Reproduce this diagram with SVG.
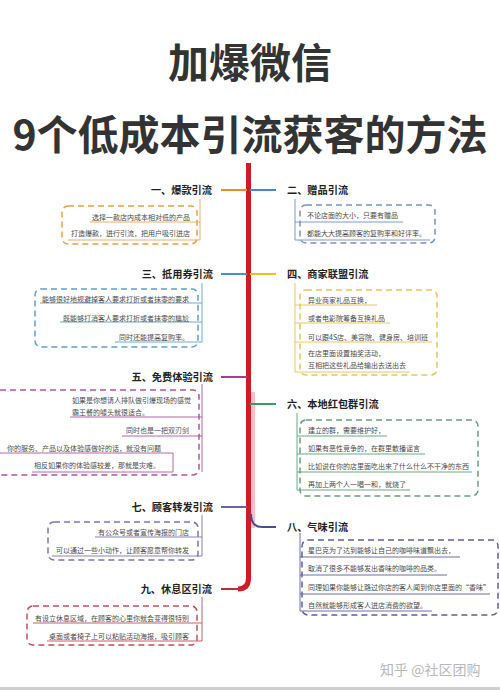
<svg xmlns="http://www.w3.org/2000/svg" width="500" height="690" viewBox="0 0 500 690">
<style>
text{font-family:"Noto Sans CJK SC","Noto Sans",sans-serif}
.title{font-size:41px;font-weight:700;fill:#333;text-anchor:middle}
.lbl{font-size:10.2px;font-weight:700;fill:#222}
.it{font-size:7px;fill:#4a4a4a}
.r{text-anchor:end}
.box{fill:none;stroke-width:1.5;stroke-dasharray:6 4}
.ul{fill:none;stroke-width:0.9}
.br{fill:none;stroke-width:2}
</style>
<rect width="500" height="690" fill="#fff"/>
<text class="title" x="250" y="78">加爆微信</text>
<text class="title" x="250" y="150">9个低成本引流获客的方法</text>

<g id="connectors">
  <rect x="250" y="392" width="5" height="136" fill="#f4c0c6"/>
  <path d="M248.5,163 L248.5,578 Q248.5,589 238,589" fill="none" stroke="#d21a22" stroke-width="5"/>
  <path class="br" d="M221,190 H247" stroke="#ef8a2a"/>
  <path class="br" d="M250,190 H276" stroke="#4f83cc"/>
  <path class="br" d="M221,274 H247" stroke="#3e95cf"/>
  <path class="br" d="M250,274 H276" stroke="#f2be1d"/>
  <path class="br" d="M221,377 H247" stroke="#a93a8f"/>
  <path class="br" d="M250,404 H276" stroke="#3d9a64"/>
  <path class="br" d="M221,507 H247" stroke="#6e61a6"/>
  <path class="br" d="M251,514 Q251,527 262,527 H276" stroke="#4c4c92"/>
  <path class="br" d="M221,589 H240" stroke="#c22a3c"/>
</g>

<g id="n0">
  <text class="lbl r" x="212" y="194">一、爆款引流</text>
  <rect class="box" x="62" y="206" width="135" height="38" rx="6" stroke="#e6a04a"/>
  <g class="ul" stroke="#eba45a"><path d="M200,199 V240"/><path d="M90,222 H200"/><path d="M68,240 H200"/></g>
  <text class="it r" x="190" y="219.5">选择一款店内成本相对低的产品</text>
  <text class="it r" x="190" y="236">打造爆款，进行引流，把用户吸引进店</text>
</g>

<g id="n1">
  <text class="lbl" x="287" y="194">二、赠品引流</text>
  <rect class="box" x="300" y="205" width="135" height="38" rx="6" stroke="#7a93c0"/>
  <g class="ul" stroke="#6e8ec6"><path d="M295,199 V240"/><path d="M295,222 H403"/><path d="M295,240 H430"/></g>
  <text class="it" x="307" y="217.5">不论店面的大小，只要有赠品</text>
  <text class="it" x="307" y="235.5">都能大大提高顾客的复购率和好评率。</text>
</g>

<g id="n2">
  <text class="lbl r" x="213" y="278">三、抵用券引流</text>
  <rect class="box" x="35" y="289" width="163" height="58" rx="6" stroke="#5ea0c8"/>
  <g class="ul" stroke="#5ea0c8"><path d="M202,283 V342"/><path d="M40,303 H202"/><path d="M60,322 H202"/><path d="M115,342 H202"/></g>
  <text class="it r" x="189" y="301.5">能够很好地规避掉客人要求打折或者抹零的要求</text>
  <text class="it r" x="189" y="320.5">既能够打消客人要求打折或者抹零的尴尬</text>
  <text class="it r" x="189" y="339.5">同时还能提高复购率。</text>
</g>

<g id="n3">
  <text class="lbl" x="287" y="278">四、商家联盟引流</text>
  <rect class="box" x="300" y="290" width="137" height="85" rx="6" stroke="#e6c65a"/>
  <g class="ul" stroke="#e8c24a"><path d="M295,283 V372"/><path d="M295,305 H377"/><path d="M295,323 H390"/><path d="M295,342 H432"/><path d="M295,372 H410"/></g>
  <text class="it" x="308" y="302.5">异业商家礼品互换，</text>
  <text class="it" x="308" y="320.5">或者电影院筹备互换礼品</text>
  <text class="it" x="308" y="339.5">可以跟4S店、美容院、健身房、培训班</text>
  <text class="it" x="308" y="355.5">在店里面设置抽奖活动，</text>
  <text class="it" x="308" y="367.5">互相把这些礼品给输出去送出去</text>
</g>

<g id="n4">
  <text class="lbl r" x="213" y="381">五、免费体验引流</text>
  <rect class="box" x="-6" y="390" width="205" height="85" rx="6" stroke="#b2559f"/>
  <g class="ul" stroke="#b2559f"><path d="M202,384 V472"/><path d="M70,417 H202"/><path d="M122,436 H202"/><path d="M173,453 V472"/><path d="M0,453 H173"/><path d="M32,472 H173"/></g>
  <text class="it" x="72" y="402.5">如果是你想请人排队做引爆现场的感觉</text>
  <text class="it" x="72" y="414.5">霸王餐的噱头就很适合。</text>
  <text class="it r" x="189" y="432.5">同时也是一把双刃剑</text>
  <text class="it" x="7" y="450.5">你的服务、产品以及体验感做好的话，就没有问题</text>
  <text class="it r" x="160" y="467.5">相反如果你的体验感较差，那就是灾难。</text>
</g>

<g id="n5">
  <text class="lbl" x="287" y="408">六、本地红包群引流</text>
  <rect class="box" x="300" y="420" width="178" height="76" rx="6" stroke="#6a9e80"/>
  <g class="ul" stroke="#5a9e76"><path d="M297,413 V490"/><path d="M297,436 H387"/><path d="M297,454 H425"/><path d="M297,472 H472"/><path d="M297,490 H410"/></g>
  <text class="it" x="308" y="432.5">建立的群，需要维护好，</text>
  <text class="it" x="308" y="450.5">如果有恶性竞争的，在群里散播谣言</text>
  <text class="it" x="308" y="468.5">比如说在你的店里面吃出来了什么什么不干净的东西</text>
  <text class="it" x="308" y="486.5">再加上两个人一唱一和，就烧了</text>
</g>

<g id="n6">
  <text class="lbl r" x="213" y="511">七、顾客转发引流</text>
  <rect class="box" x="48" y="522" width="150" height="38" rx="6" stroke="#7c74ae"/>
  <g class="ul" stroke="#7c74ae"><path d="M202,515 V556"/><path d="M95,537 H202"/><path d="M52,556 H202"/></g>
  <text class="it r" x="189" y="534.5">有公众号或者宣传海报的门店</text>
  <text class="it r" x="189" y="552.5">可以通过一些小动作，让顾客愿意帮你转发</text>
</g>

<g id="n7">
  <text class="lbl" x="287" y="531">八、气味引流</text>
  <rect class="box" x="302" y="540" width="196" height="75" rx="6" stroke="#5f5f9e"/>
  <g class="ul" stroke="#5f5f9e"><path d="M300,533 V611"/><path d="M300,557 H460"/><path d="M300,575 H447"/><path d="M300,594 H490"/><path d="M300,611 H432"/></g>
  <text class="it" x="308" y="552.5">星巴克为了达到能够让自己的咖啡味道飘出去，</text>
  <text class="it" x="308" y="570.5">取消了很多不能够发出香味的咖啡的品类。</text>
  <text class="it" x="308" y="589.5">同理如果你能够让路过你店的客人闻到你店里面的“香味”</text>
  <text class="it" x="308" y="607.5">自然就能够形成客人进店消费的欲望。</text>
</g>

<g id="n8">
  <text class="lbl r" x="212" y="593">九、休息区引流</text>
  <rect class="box" x="27" y="606" width="170" height="39" rx="6" stroke="#c24d5c"/>
  <g class="ul" stroke="#c24d5c"><path d="M202,597 V641"/><path d="M33,623 H202"/><path d="M47,641 H202"/></g>
  <text class="it r" x="189" y="620.5">有设立休息区域，在顾客的心里你就会变得很特别</text>
  <text class="it r" x="189" y="638.5">桌面或者椅子上可以粘贴活动海报，吸引顾客</text>
</g>

<text x="380" y="675" font-size="14" fill="#b8b8b8">知乎 @社区团购</text>
<rect x="0" y="687" width="500" height="3" fill="#cfcfcf"/>
</svg>
